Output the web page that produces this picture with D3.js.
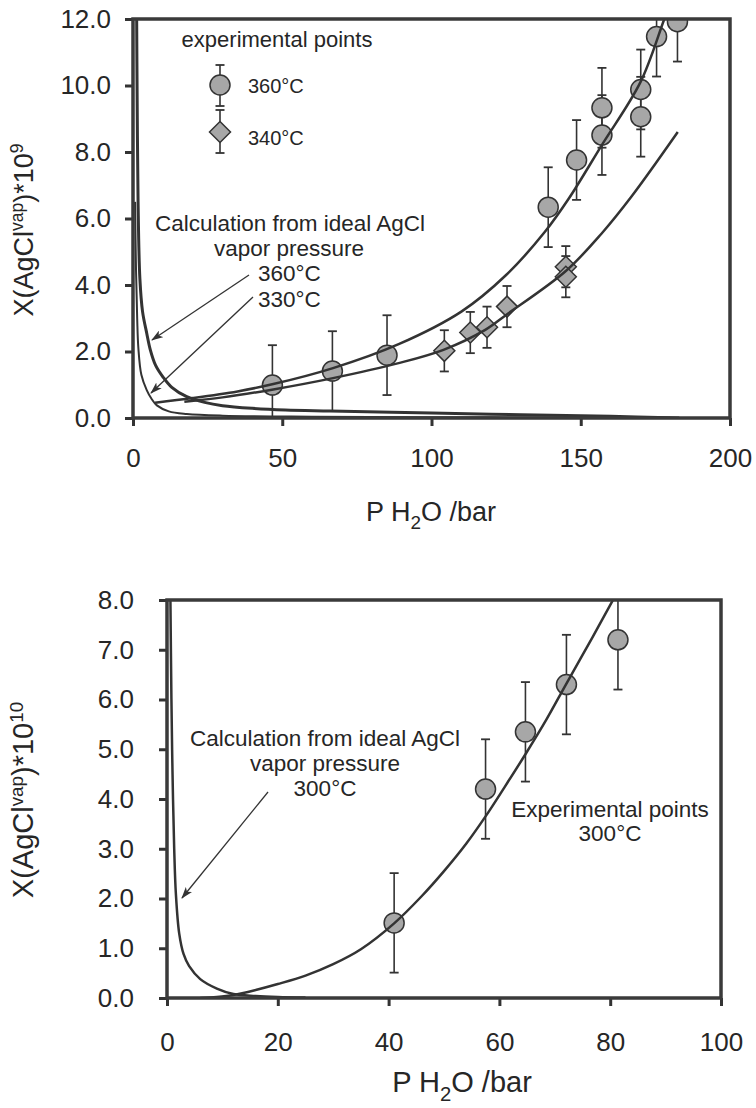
<!DOCTYPE html>
<html><head><meta charset="utf-8">
<script src="https://cdn.jsdelivr.net/npm/d3@7"></script>
<style>
body{margin:0;background:#fff}
svg{display:block}
text{font-family:"Liberation Sans",Arial,Helvetica,sans-serif;fill:#262626}
</style>
</head><body>
<svg id="c" width="756" height="1108"></svg>
<script>
// ---------- DATA (top panel) ----------
const topXTicks = [0, 50, 100, 150, 200];
const topYTicks = [0, 2, 4, 6, 8, 10, 12];
const exp360X = [46.7, 66.8, 85.1, 139.1, 148.6, 157.1, 157.1, 170.1, 170.1, 175.4, 182.4];
const exp360Y = [0.99, 1.41, 1.89, 6.34, 7.76, 9.33, 8.51, 9.88, 9.06, 11.47, 11.92];
const exp360Err = [1.2, 1.2, 1.2, 1.2, 1.2, 1.2, 1.2, 1.2, 1.2, 1.2, 1.2];
const exp340X = [104.3, 113.0, 118.6, 125.3, 145.0, 145.0];
const exp340Y = [2.02, 2.57, 2.73, 3.35, 4.55, 4.25];
const exp340Err = [0.62, 0.62, 0.62, 0.62, 0.62, 0.62];
const fit360X = [7.4, 20, 35, 47, 67, 89, 110, 125, 138, 146, 157, 170, 178, 181];
const fit360Y = [0.46, 0.6, 0.8, 1.02, 1.5, 2.22, 3.2, 4.3, 5.6, 6.6, 8.2, 10.1, 12.0, 12.7];
const fit340X = [17.2, 30, 47, 67, 89, 104, 118, 125, 145, 157, 167, 182.5];
const fit340Y = [0.49, 0.62, 0.86, 1.2, 1.65, 2.05, 2.65, 3.1, 4.42, 5.55, 6.66, 8.6];
const calc360X = [1.2, 1.4, 1.7, 2.3, 3.2, 4.6, 5.8, 7.5, 10, 13, 18, 24, 30, 40, 51, 66, 100, 130, 160, 183];
const calc360Y = [12.5, 9.5, 6.5, 4.2, 3.2, 2.55, 2.05, 1.6, 1.24, 0.92, 0.64, 0.47, 0.37, 0.29, 0.24, 0.21, 0.15, 0.1, 0.05, 0.0];
const calc330X = [0.7, 1.0, 1.4, 1.8, 2.8, 4.6, 6.2, 8, 12, 18, 30, 60, 120, 180];
const calc330Y = [6.5, 4.5, 3.0, 2.1, 1.3, 0.84, 0.58, 0.38, 0.2, 0.12, 0.07, 0.04, 0.02, 0.005];

// ---------- DATA (bottom panel) ----------
const botXTicks = [0, 20, 40, 60, 80, 100];
const botYTicks = [0, 1, 2, 3, 4, 5, 6, 7, 8];
const exp300X = [41.0, 57.5, 64.7, 72.1, 81.4];
const exp300Y = [1.51, 4.2, 5.35, 6.3, 7.2];
const exp300Err = [1.0, 1.0, 1.0, 1.0, 1.0];
const fit300X = [6, 9, 12, 16, 20, 25, 30, 35, 41, 46, 50, 54, 57.5, 61, 64.7, 68.5, 72, 76.8, 80.6, 82];
const fit300Y = [0.0, 0.02, 0.06, 0.16, 0.28, 0.45, 0.68, 0.98, 1.5, 2.05, 2.55, 3.1, 3.65, 4.25, 4.9, 5.6, 6.3, 7.25, 8.02, 8.3];
const calc300X = [0.6, 0.8, 1.0, 1.3, 1.6, 2.2, 3, 4, 6, 9, 12, 16, 20, 25];
const calc300Y = [8.2, 6, 4.5, 3, 2.1, 1.3, 0.88, 0.64, 0.38, 0.19, 0.08, 0.04, 0.02, 0.01];

// ---------- DRAW ----------
const svg = d3.select("#c");
svg.append("rect").attr("width",756).attr("height",1108).attr("fill","#fff");
const INK = "#333";
const FILL = "#a7a7a7";

const defs = svg.append("defs");
defs.append("marker").attr("id","arr").attr("viewBox","0 0 12 8").attr("refX",11).attr("refY",4)
  .attr("markerWidth",12).attr("markerHeight",8).attr("markerUnits","userSpaceOnUse").attr("orient","auto")
  .append("path").attr("d","M0,0 L12,4 L0,8 L3,4 Z").attr("fill",INK);

function zip(a,b){ return a.map((v,i)=>[v,b[i]]); }

function panel(opt){
  const g = svg.append("g");
  const x = opt.x, y = opt.y;
  const [x0,x1] = x.range(), [y0,y1] = y.range();
  const cid = opt.id+"clip";
  defs.append("clipPath").attr("id",cid).append("rect")
    .attr("x",x0).attr("y",y1).attr("width",x1-x0).attr("height",y0-y1);

  const ax = d3.axisBottom(x).tickValues(opt.xTicks).tickFormat(d3.format("d"))
    .tickSizeInner(8).tickSizeOuter(0).tickPadding(opt.xPad);
  const gx = g.append("g").attr("transform",`translate(0,${y0})`).call(ax);
  const ay = d3.axisLeft(y).tickValues(opt.yTicks).tickFormat(d3.format(".1f"))
    .tickSizeInner(8).tickSizeOuter(0).tickPadding(opt.yPad);
  const gy = g.append("g").attr("transform",`translate(${x0},0)`).call(ay);
  [gx,gy].forEach(a=>{
    a.select(".domain").remove();
    a.selectAll(".tick line").attr("stroke",INK).attr("stroke-width",3);
    a.selectAll(".tick text").attr("font-size",26).attr("fill","#262626")
      .attr("font-family",'"Liberation Sans",Arial,sans-serif');
  });

  const inner = g.append("g").attr("clip-path",`url(#${cid})`);
  opt.series.forEach(s=>{
    s.X.forEach((xv,i)=>{
      const yv=s.Y[i], e=s.E[i];
      const px=x(xv), pt=y(yv+e), pb=y(yv-e);
      inner.append("line").attr("x1",px).attr("x2",px).attr("y1",pt).attr("y2",pb)
        .attr("stroke",INK).attr("stroke-width",1.6);
      [pt,pb].forEach(py=>inner.append("line").attr("x1",px-4.5).attr("x2",px+4.5)
        .attr("y1",py).attr("y2",py).attr("stroke",INK).attr("stroke-width",1.8));
    });
  });
  opt.series.forEach(s=>{
    s.X.forEach((xv,i)=>{
      const px=x(xv), py=y(s.Y[i]);
      if(s.shape==="circle"){
        inner.append("circle").attr("cx",px).attr("cy",py).attr("r",10)
          .attr("fill",FILL).attr("stroke",INK).attr("stroke-width",1.5);
      } else {
        inner.append("path").attr("d","M0,-10.5 L10.5,0 L0,10.5 L-10.5,0 Z")
          .attr("transform",`translate(${px},${py})`)
          .attr("fill",FILL).attr("stroke",INK).attr("stroke-width",1.5);
      }
    });
  });
  const line = d3.line().x(d=>x(d[0])).y(d=>y(d[1])).curve(d3.curveCatmullRom.alpha(0.5));
  opt.curves.forEach(c=>{
    inner.append("path").attr("d",line(zip(c.X,c.Y))).attr("fill","none")
      .attr("stroke",INK).attr("stroke-width",c.w).attr("stroke-linejoin","round");
  });
  g.append("rect").attr("x",x0).attr("y",y1).attr("width",x1-x0).attr("height",y0-y1)
    .attr("fill","none").attr("stroke","#3a3a3a").attr("stroke-width",3.5);
  return g;
}

// ----- top panel -----
const xT = d3.scaleLinear([0,200],[133,730]);
const yT = d3.scaleLinear([0,12],[418,19]);
panel({id:"t", x:xT, y:yT, xTicks:topXTicks, yTicks:topYTicks, xPad:23, yPad:14,
  series:[
    {X:exp360X, Y:exp360Y, E:exp360Err, shape:"circle"},
    {X:exp340X, Y:exp340Y, E:exp340Err, shape:"diamond"}],
  curves:[
    {X:fit360X, Y:fit360Y, w:2.5},
    {X:fit340X, Y:fit340Y, w:2.5},
    {X:calc360X, Y:calc360Y, w:3},
    {X:calc330X, Y:calc330Y, w:2}]
});

// ----- bottom panel -----
const xB = d3.scaleLinear([0,100],[167,721]);
const yB = d3.scaleLinear([0,8],[998,600]);
panel({id:"b", x:xB, y:yB, xTicks:botXTicks, yTicks:botYTicks, xPad:27, yPad:25,
  series:[{X:exp300X, Y:exp300Y, E:exp300Err, shape:"circle"}],
  curves:[
    {X:fit300X, Y:fit300Y, w:2.5},
    {X:calc300X, Y:calc300Y, w:2.5}]
});

function txt(x,y,s,size,anchor){
  return svg.append("text").attr("x",x).attr("y",y).attr("font-size",size)
    .attr("text-anchor",anchor||"middle").text(s);
}
function yTitle(cx,cy,size,exp){
  const t = svg.append("text").attr("transform",`translate(${cx},${cy}) rotate(-90)`)
    .attr("text-anchor","middle").attr("font-size",size);
  t.append("tspan").text("X(AgCl");
  t.append("tspan").attr("font-size",size*0.65).attr("dy",-size*0.36).text("vap");
  t.append("tspan").attr("dy",size*0.36).text(")*10");
  t.append("tspan").attr("font-size",size*0.65).attr("dy",-size*0.36).text(exp);
}
function xTitle(cx,by,size){
  const t = svg.append("text").attr("x",cx).attr("y",by).attr("text-anchor","middle").attr("font-size",size);
  t.append("tspan").text("P H");
  t.append("tspan").attr("font-size",size*0.7).attr("dy",size*0.3).text("2");
  t.append("tspan").attr("dy",-size*0.3).text("O /bar");
}
function arrow(x1,y1,x2,y2){
  svg.append("line").attr("x1",x1).attr("y1",y1).attr("x2",x2).attr("y2",y2)
    .attr("stroke",INK).attr("stroke-width",1.3).attr("marker-end","url(#arr)");
}

// top titles & annotations
yTitle(33,230,27,"9");
xTitle(431,521,27);
txt(277,47,"experimental points",22);
svg.append("line").attr("x1",220).attr("x2",220).attr("y1",65).attr("y2",106).attr("stroke",INK).attr("stroke-width",1.6);
[65,106].forEach(v=>svg.append("line").attr("x1",215.5).attr("x2",224.5).attr("y1",v).attr("y2",v).attr("stroke",INK).attr("stroke-width",1.8));
svg.append("circle").attr("cx",220).attr("cy",85).attr("r",10).attr("fill",FILL).attr("stroke",INK).attr("stroke-width",1.5);
txt(248,93,"360°C",20,"start");
svg.append("line").attr("x1",220).attr("x2",220).attr("y1",110).attr("y2",153).attr("stroke",INK).attr("stroke-width",1.6);
[110,153].forEach(v=>svg.append("line").attr("x1",215.5).attr("x2",224.5).attr("y1",v).attr("y2",v).attr("stroke",INK).attr("stroke-width",1.8));
svg.append("path").attr("d","M0,-10.5 L10.5,0 L0,10.5 L-10.5,0 Z").attr("transform","translate(220,132)")
  .attr("fill",FILL).attr("stroke",INK).attr("stroke-width",1.5);
txt(248,145,"340°C",20,"start");

txt(290,231,"Calculation from ideal AgCl",22.5);
txt(289,256,"vapor pressure",22.5);
txt(258,281,"360°C",22.5,"start");
txt(258,307,"330°C",22.5,"start");
arrow(249,275,152,340);
arrow(253,297,151,393);

// bottom titles & annotations
yTitle(33,800,29,"10");
xTitle(462,1092,29);
txt(325,746,"Calculation from ideal AgCl",22.5);
txt(325,771,"vapor pressure",22.5);
txt(325,796,"300°C",22.5);
txt(610,817,"Experimental points",22.5);
txt(610,841,"300°C",22.5);
arrow(268,792,182,898);
</script>
</body></html>
